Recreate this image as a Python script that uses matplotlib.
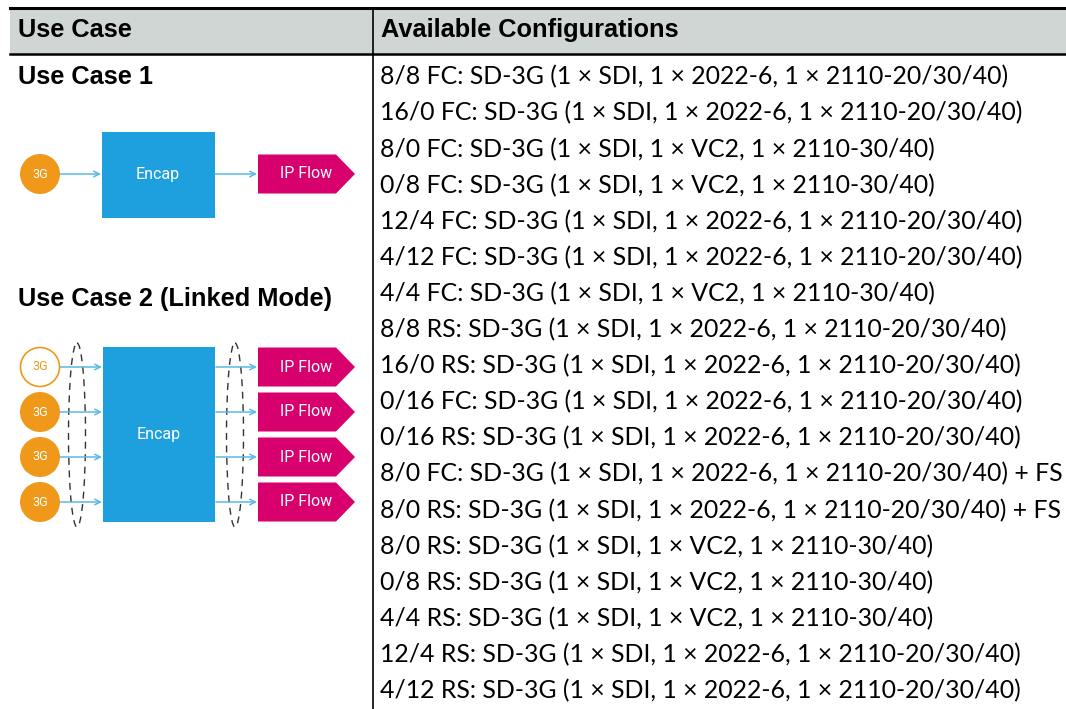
import matplotlib.pyplot as plt
from matplotlib.patches import Rectangle, Circle, Polygon, Ellipse

# table content
headers = ["Use Case", "Available Configurations"]
use_cases = ["Use Case 1", "Use Case 2 (Linked Mode)"]
configs = [
    "8/8 FC: SD-3G (1 × SDI, 1 × 2022-6, 1 × 2110-20/30/40)",
    "16/0 FC: SD-3G (1 × SDI, 1 × 2022-6, 1 × 2110-20/30/40)",
    "8/0 FC: SD-3G (1 × SDI, 1 × VC2, 1 × 2110-30/40)",
    "0/8 FC: SD-3G (1 × SDI, 1 × VC2, 1 × 2110-30/40)",
    "12/4 FC: SD-3G (1 × SDI, 1 × 2022-6, 1 × 2110-20/30/40)",
    "4/12 FC: SD-3G (1 × SDI, 1 × 2022-6, 1 × 2110-20/30/40)",
    "4/4 FC: SD-3G (1 × SDI, 1 × VC2, 1 × 2110-30/40)",
    "8/8 RS: SD-3G (1 × SDI, 1 × 2022-6, 1 × 2110-20/30/40)",
    "16/0 RS: SD-3G (1 × SDI, 1 × 2022-6, 1 × 2110-20/30/40)",
    "0/16 FC: SD-3G (1 × SDI, 1 × 2022-6, 1 × 2110-20/30/40)",
    "0/16 RS: SD-3G (1 × SDI, 1 × 2022-6, 1 × 2110-20/30/40)",
    "8/0 FC: SD-3G (1 × SDI, 1 × 2022-6, 1 × 2110-20/30/40) + FS",
    "8/0 RS: SD-3G (1 × SDI, 1 × 2022-6, 1 × 2110-20/30/40) + FS",
    "8/0 RS: SD-3G (1 × SDI, 1 × VC2, 1 × 2110-30/40)",
    "0/8 RS: SD-3G (1 × SDI, 1 × VC2, 1 × 2110-30/40)",
    "4/4 RS: SD-3G (1 × SDI, 1 × VC2, 1 × 2110-30/40)",
    "12/4 RS: SD-3G (1 × SDI, 1 × 2022-6, 1 × 2110-20/30/40)",
    "4/12 RS: SD-3G (1 × SDI, 1 × 2022-6, 1 × 2110-20/30/40)",
]
# diagram 1: one input, one flow; diagram 2: four linked inputs/flows
diag1_inputs = ["3G"]
diag2_inputs = ["3G", "3G", "3G", "3G"]
diag2_hollow = [True, False, False, False]
box_label = "Encap"
flow_label = "IP Flow"

ORANGE = "#f0981a"
BLUE = "#1fa0de"
ARROW = "#5cb8e6"
MAGENTA = "#d8006d"
GREY = "#cfd6d4"

W, H = 1066, 709
fig = plt.figure(figsize=(W / 100, H / 100), dpi=100)
ax = fig.add_axes([0, 0, 1, 1])
ax.set_xlim(0, W)
ax.set_ylim(H, 0)
ax.axis("off")

font = "Lato"
bold = "Liberation Sans"
fs = 17.9
bfs = 18.3

# header band and rules
ax.add_patch(Rectangle((10, 8), W - 10, 46, color=GREY, lw=0))
ax.plot([10, W], [8, 8], color="black", lw=2.2)
ax.plot([10, W], [54, 54], color="black", lw=1.8)
ax.plot([373, 373], [8, H], color="black", lw=1.2)
ax.text(18, 30, headers[0], fontsize=bfs, fontweight="bold", family=bold, va="center")
ax.text(381, 30, headers[1], fontsize=bfs, fontweight="bold", family=bold, va="center")

# configuration rows
y0, dy = 77, 36.1
for i, c in enumerate(configs):
    ax.text(380, y0 + i * dy, c, fontsize=fs, family=font, va="center")

ax.text(18, 77, use_cases[0], fontsize=bfs, fontweight="bold", family=bold, va="center")
ax.text(18, 299, use_cases[1], fontsize=bfs, fontweight="bold", family=bold, va="center")


def arrow(x1, x2, y):
    ax.annotate("", xy=(x2, y), xytext=(x1, y),
                arrowprops=dict(arrowstyle="->", color=ARROW, lw=1.1,
                                shrinkA=0, shrinkB=0, mutation_scale=10))


def node(x, y, label, hollow=False):
    if hollow:
        ax.add_patch(Circle((x, y), 19.5, facecolor="white", edgecolor=ORANGE, lw=1.2))
        tc = ORANGE
    else:
        ax.add_patch(Circle((x, y), 20, color=ORANGE, lw=0))
        tc = "white"
    ax.text(x, y, label, fontsize=9, color=tc, ha="center", va="center", family="Roboto")


def flow(x, y, label):
    pts = [(258, y - 19.5), (336, y - 19.5), (355, y), (336, y + 19.5), (258, y + 19.5)]
    ax.add_patch(Polygon(pts, closed=True, color=MAGENTA, lw=0))
    ax.text(306, y, label, fontsize=11.5, color="white", ha="center", va="center", family="Roboto")


# diagram 1
yc = 174
for lab in diag1_inputs:
    node(40, yc, lab)
    arrow(60, 101, yc)
    arrow(215, 257, yc)
    flow(258, yc, flow_label)
ax.add_patch(Rectangle((102, 132), 113, 86, color=BLUE, lw=0))
ax.text(158, 174, box_label, fontsize=11.5, color="white", ha="center", va="center", family="Roboto")

# diagram 2
ys = [367, 412, 457, 502]
ax.add_patch(Rectangle((103, 347), 112, 175, color=BLUE, lw=0))
ax.text(159, 435, box_label, fontsize=11.5, color="white", ha="center", va="center", family="Roboto")
for y, lab, hol in zip(ys, diag2_inputs, diag2_hollow):
    node(40, y, lab, hol)
    arrow(60, 102, y)
    arrow(216, 257, y)
    flow(257, y, flow_label)
for ex in [77, 235]:
    ax.add_patch(Ellipse((ex, 435), 17, 184, fill=False, edgecolor="#333333",
                         lw=1.0, linestyle=(0, (5, 4))))

fig.savefig("out.png", dpi=100)
